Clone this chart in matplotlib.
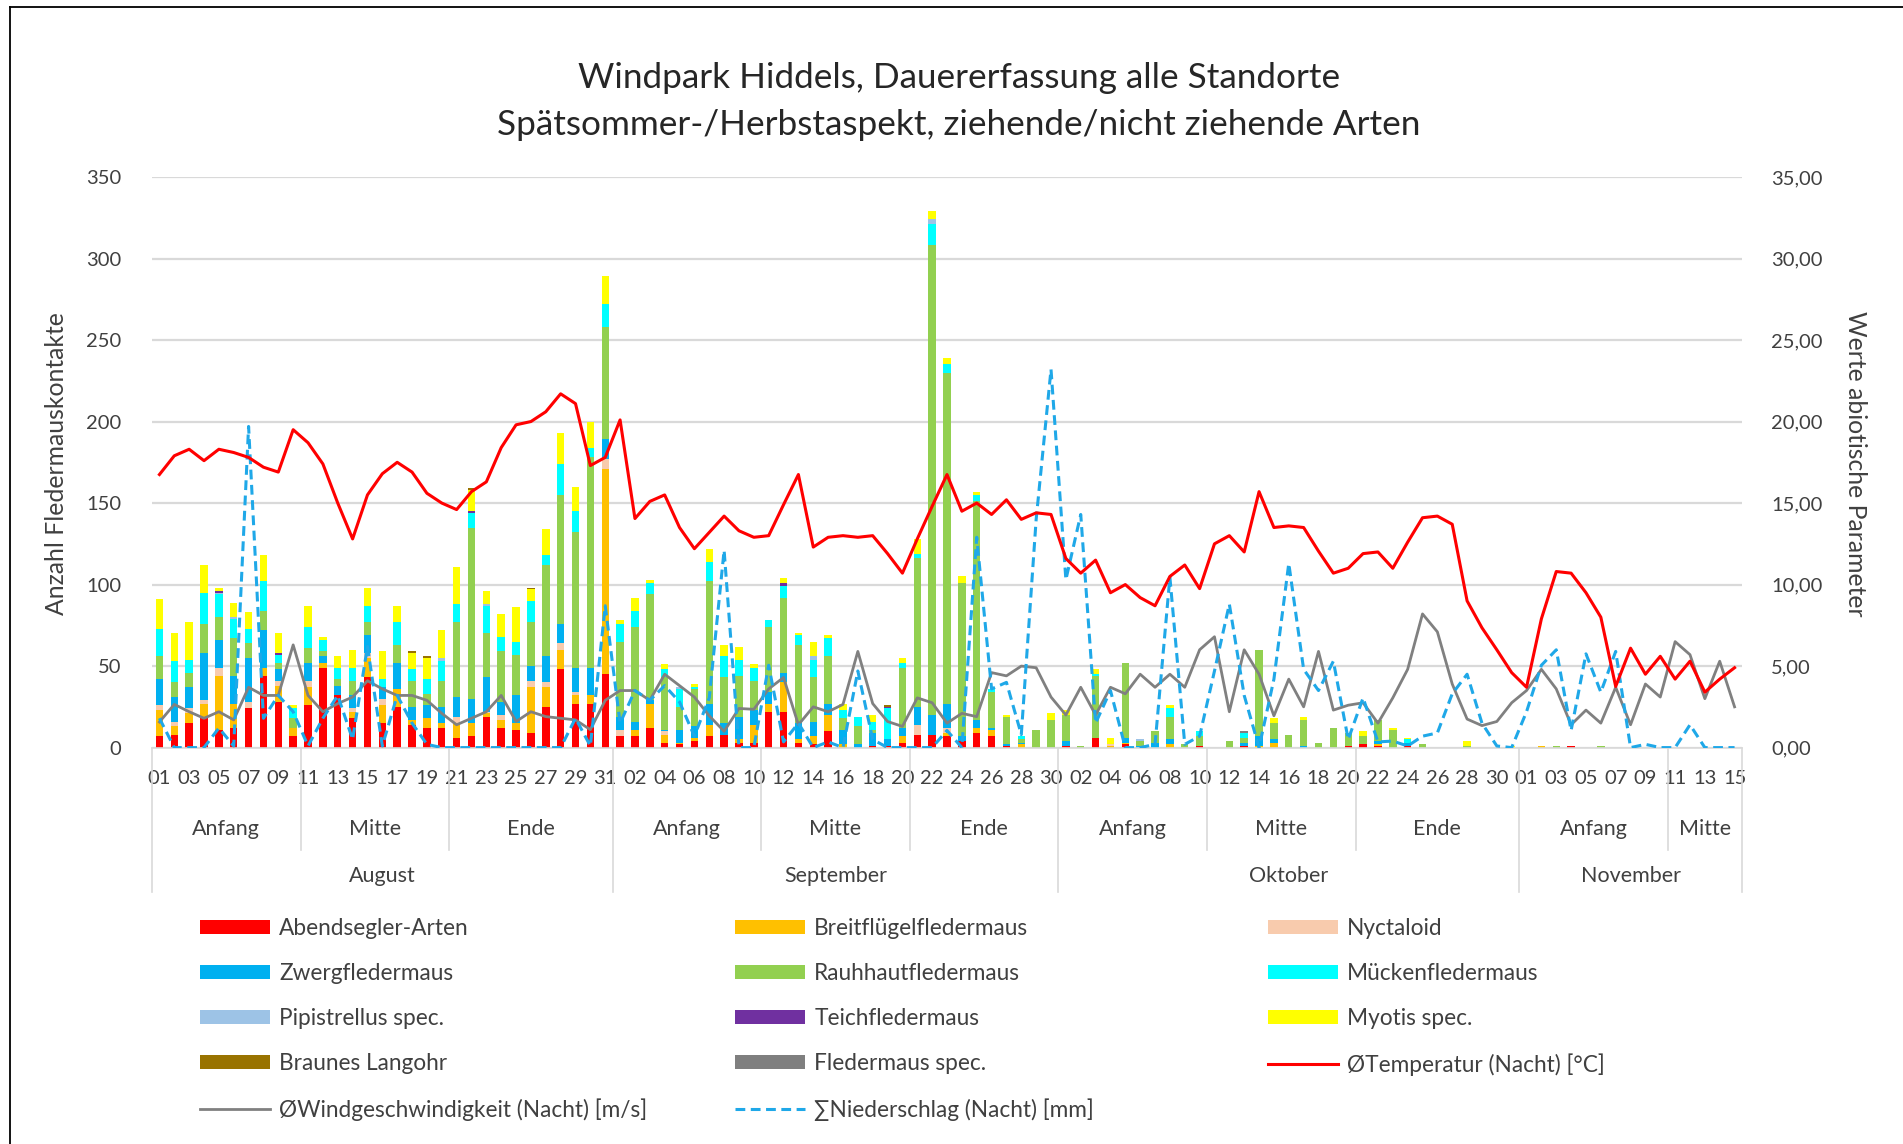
import matplotlib
matplotlib.use('Agg')
import matplotlib.pyplot as plt
from matplotlib.lines import Line2D
from matplotlib.patches import Patch
from matplotlib.ticker import FuncFormatter, MultipleLocator
import matplotlib.transforms as mtransforms
import numpy as np

plt.rcParams['font.family'] = ['Lato', 'DejaVu Sans']

# ---------------- data ----------------
months = ['August', 'September', 'Oktober', 'November']
month_days = [31, 30, 31, 15]
periods = ['Anfang', 'Mitte', 'Ende']

abendsegler = [7,8,15,18,11,12,24,44,28,7, 26,49,32,18,43,15,25,14,12,12, 6,7,19,12,11,9,25,48,27,27,45,
               7,7,12,3,2,4,7,8,3,3, 22,22,3,2,10,0,0,1,1,3, 8,8,7,4,9,7,1,0,0,0,
               1,0,6,0,2,0,0,0,0,1, 0,0,1,0,0,0,0,0,0,1, 2,1,0,1,0,0,0,0,0,0,0,
               0,0,0,1,0,0,0,0,0,0, 0,0,0,0,0]
breitfluegel = [16,5,6,9,33,15,0,5,10,5, 11,3,0,4,12,11,11,3,6,3, 9,8,2,5,4,28,12,12,5,5,126,
                0,4,15,5,1,2,7,0,2,11, 5,18,2,5,10,2,0,0,0,4, 0,0,2,0,3,4,0,2,0,0,
                0,0,0,1,1,0,0,2,0,0, 0,0,0,1,3,0,0,0,0,0, 0,1,0,0,0,0,0,0,0,0,0,
                0,1,0,0,0,0,0,0,0,0, 0,0,0,0,0]
nyctaloid = [3,3,3,2,5,0,4,0,3,0, 4,0,0,2,3,4,0,0,0,0, 4,0,1,3,0,4,3,4,2,0,6,
             4,0,0,2,0,0,0,0,0,0, 0,0,0,0,0,0,0,0,0,0, 6,0,3,0,0,0,0,0,0,0,
             0,0,0,1,0,0,0,0,0,0, 0,0,0,0,0,0,0,0,0,0, 0,0,0,0,0,0,0,0,0,0,0,
             0,0,0,0,0,0,0,0,0,0, 0,0,0,0,0]
zwerg = [16,15,13,29,17,17,27,23,7,0, 11,4,6,8,11,7,16,8,8,10, 12,15,21,8,17,9,16,12,15,17,12,
         8,5,2,1,8,7,13,7,14,9, 7,6,10,9,7,9,2,8,4,5, 11,12,15,3,5,1,1,1,0,0,
         3,0,0,0,3,1,3,3,0,0, 0,0,2,6,2,0,1,0,0,0, 0,2,0,2,0,0,0,0,0,0,0,
         0,0,0,0,0,0,0,0,0,0, 0,0,0,0,0]
rauhhaut = [14,9,9,18,14,23,9,12,4,6, 9,3,4,9,8,0,11,16,7,16, 46,105,27,31,25,27,56,79,83,129,69,
            46,58,65,32,14,23,75,28,25,18, 40,46,48,27,29,7,11,2,0,37, 91,288,203,94,134,22,17,2,11,17,
            16,1,38,0,46,3,7,14,2,6, 0,4,3,53,10,8,16,3,12,8, 5,13,11,0,2,0,0,1,0,0,0,
            0,0,1,0,0,1,0,0,0,0, 0,0,0,0,0]
muecken = [17,13,8,19,14,12,9,18,5,6, 13,7,7,8,10,5,14,7,9,12, 11,9,17,9,8,13,6,19,13,6,14,
           11,10,7,5,11,1,12,13,10,8, 4,7,6,11,11,5,6,5,19,3, 3,13,5,0,4,2,0,2,0,0,
           0,0,1,0,0,0,0,5,0,3, 0,0,3,0,0,0,0,0,0,0, 0,0,0,2,0,0,0,0,0,0,0,
           0,0,0,0,0,0,0,0,0,0, 0,0,0,0,0]
pipistrellus = [0,0,0,0,1,1,0,0,0,0, 0,0,0,0,0,0,0,0,0,2, 0,0,1,0,0,0,0,0,0,0,0,
                0,0,0,0,1,0,0,0,0,0, 0,0,0,2,0,0,0,0,0,0, 0,3,0,0,0,0,0,0,0,0,
                0,0,0,0,0,1,0,0,0,0, 0,0,0,0,0,0,0,0,0,0, 0,0,0,0,0,0,0,0,0,0,0,
                0,0,0,0,0,0,0,0,0,0, 0,0,0,0,0]
teich = [0,0,0,0,1,0,0,0,1,0, 0,0,0,0,0,0,0,0,0,0, 0,1,0,0,0,0,0,0,0,0,0,
         0,0,0,0,0,0,0,0,0,0, 0,2,0,0,0,0,0,0,1,0, 0,0,0,0,0,0,0,0,0,0,
         0,0,0,0,0,0,0,0,0,0, 0,0,0,0,0,0,0,0,0,0, 0,0,0,0,0,0,0,0,0,0,0,
         0,0,0,0,0,0,0,0,0,0, 0,0,0,0,0]
myotis = [18,17,23,17,2,9,10,16,12,2, 13,2,7,11,11,17,10,10,13,17, 23,13,8,14,21,7,16,19,15,16,17,
          2,8,2,3,0,2,8,7,8,2, 0,3,1,9,2,4,0,4,0,3, 9,5,4,4,2,0,1,0,0,4,
          3,0,3,4,0,0,0,2,0,0, 0,0,0,0,3,0,2,0,0,0, 3,0,1,1,0,0,0,3,0,0,1,
          0,0,0,0,0,0,0,0,0,0, 0,0,0,0,0]
langohr = [0,0,0,0,0,0,0,0,0,0, 0,0,0,0,0,0,0,1,1,0, 0,1,0,0,0,1,0,0,0,0,0,
           0,0,0,0,0,0,0,0,0,0, 0,0,0,0,0,0,0,0,1,0, 0,0,0,0,0,0,0,0,0,0,
           0,0,0,0,0,0,0,0,0,0, 0,0,0,0,0,0,0,0,0,0, 0,0,0,0,0,0,0,0,0,0,0,
           0,0,0,0,0,0,0,0,0,0, 0,0,0,0,0]
fledermaus_spec = [0,0,0,0,0,0,0,0,0,0, 0,0,0,0,0,0,0,0,0,0, 0,0,0,0,0,0,0,0,0,0,0,
                   0,0,0,0,0,0,0,0,0,0, 0,0,0,0,0,0,0,0,0,0, 0,0,0,0,0,0,0,0,0,0,
                   0,0,0,0,0,0,0,0,0,0, 0,0,1,0,0,0,0,0,0,0, 0,0,0,0,0,0,0,0,0,0,0,
                   0,0,0,0,0,0,0,0,0,0, 0,0,0,0,0]

temperatur = [16.75,17.9,18.3,17.6,18.3,18.1,17.8,17.2,16.9,19.5, 18.7,17.4,15.0,12.8,15.5,16.8,17.5,16.9,15.6,15.0,
              14.6,15.7,16.3,18.4,19.8,20.0,20.6,21.7,21.1,17.3,17.8,
              20.1,14.05,15.1,15.5,13.5,12.2,13.2,14.2,13.3,12.9, 13.0,14.9,16.75,12.3,12.9,13.0,12.9,13.0,11.9,10.7,
              12.8,14.8,16.75,14.5,15.0,14.3,15.2,14.0,14.4,14.3,
              11.6,10.7,11.5,9.5,10.0,9.2,8.7,10.5,11.2,9.75, 12.5,13.0,12.0,15.7,13.5,13.6,13.5,12.05,10.7,11.0,
              11.9,12.0,11.0,12.6,14.1,14.2,13.7,9.0,7.35,6.0,4.6,
              3.7,7.9,10.8,10.7,9.5,8.0,3.75,6.1,4.5,5.6, 4.2,5.3,3.4,4.2,4.9]
wind = [1.57,2.65,2.2,1.8,2.2,1.7,3.7,3.2,3.2,6.3, 3.2,2.2,2.7,3.1,4.1,3.6,3.2,3.2,2.9,2.1,
        1.4,1.8,2.2,3.2,1.6,2.2,1.9,1.8,1.7,1.1,2.9,
        3.5,3.5,2.9,4.5,3.8,3.1,1.95,1.0,2.4,2.35, 3.6,4.3,1.4,2.5,2.2,2.65,5.9,2.7,1.6,1.3,
        3.05,2.75,1.5,2.1,1.9,4.6,4.4,5.0,4.9,3.1,
        2.0,3.7,2.0,3.7,3.3,4.5,3.7,4.5,3.7,6.0, 6.8,2.2,6.0,4.5,1.95,4.2,2.5,5.9,2.3,2.6,
        2.75,1.5,3.05,4.8,8.2,7.1,3.9,1.75,1.35,1.6,2.75,
        3.5,4.8,3.6,1.4,2.3,1.5,3.7,1.4,3.9,3.1, 6.5,5.7,3.0,5.3,2.5]
niederschlag = [1.8,0,0,0,1.2,0.1,19.7,1.8,3.2,2.2, 0.1,1.8,3.2,0.5,6.2,0.1,3.2,1.5,0.2,0,
                0,0,0,0,0,0,0,0,1.8,0.1,8.7,
                1.5,3.5,2.9,3.8,2.8,0.7,3.05,12.1,0,0, 5.05,0.35,1.5,0,0.35,0,4.7,0.5,0,0,
                0,0,1.05,0,12.9,3.6,4.0,0.8,14.0,23.2,
                10.3,14.3,1.5,3.5,0,0,0.2,10.45,0.2,0.7, 4.7,8.8,3.2,0,4.2,11.3,4.8,3.5,5.3,0.5,
                3.05,0.35,0.4,0.1,0.7,0.9,3.3,4.5,1.5,0.1,0,
                2.2,5.05,6.0,1.05,5.75,3.4,5.9,0,0.2,0, 0,1.4,0,0,0]

species_names = ['Abendsegler-Arten', 'Breitflügelfledermaus', 'Nyctaloid', 'Zwergfledermaus',
                 'Rauhhautfledermaus', 'Mückenfledermaus', 'Pipistrellus spec.', 'Teichfledermaus',
                 'Myotis spec.', 'Braunes Langohr', 'Fledermaus spec.']
species_values = [abendsegler, breitfluegel, nyctaloid, zwerg, rauhhaut, muecken,
                  pipistrellus, teich, myotis, langohr, fledermaus_spec]
species_colors = ['#FF0000', '#FFC000', '#F8CBAD', '#00B0F0', '#92D050', '#00FFFF',
                  '#9DC3E6', '#7030A0', '#FFFF00', '#997300', '#7F7F7F']

# ---------------- figure ----------------
W, H = 1903, 1144
fig = plt.figure(figsize=(W / 100, H / 100), dpi=100)
fig.patch.set_facecolor('white')

def fx(px):
    return px / W

def fy(py):
    return 1 - py / H

ax_left, ax_right, ax_top, ax_bot = 152, 1742, 177, 747.6
ax = fig.add_axes([fx(ax_left), fy(ax_bot), fx(ax_right - ax_left), (ax_bot - ax_top) / H])
ax2 = ax.twinx()

day_labels = [f"{d:02d}" for n in month_days for d in range(1, n + 1)]
n = len(day_labels)
x = np.arange(n)

txt_col = '#404040'
grid_col = '#D9D9D9'

bottom = np.zeros(n)
bar_handles = []
for name, vals, col in zip(species_names, species_values, species_colors):
    v = np.array(vals, dtype=float)
    ax.bar(x, v, width=0.5, bottom=bottom, color=col, linewidth=0, zorder=2)
    bottom += v
    bar_handles.append(Patch(facecolor=col, edgecolor='none', label=name))

l_temp, = ax2.plot(x, temperatur, color='#FF0000', lw=2.2, zorder=5, label='ØTemperatur (Nacht) [°C]')
l_wind, = ax2.plot(x, wind, color='#808080', lw=2.0, zorder=4, label='ØWindgeschwindigkeit (Nacht) [m/s]')
l_rain, = ax2.plot(x, niederschlag, color='#1FA8E8', lw=2.2, dashes=(3.2, 1.8), zorder=4,
                   label='∑Niederschlag (Nacht) [mm]')

ax.set_xlim(-0.5, n - 0.5)
ax.set_ylim(0, 350)
ax2.set_ylim(0, 35)
ax.yaxis.set_major_locator(MultipleLocator(50))
ax2.yaxis.set_major_locator(MultipleLocator(5))
ax2.yaxis.set_major_formatter(FuncFormatter(lambda v, p: f"{v:.2f}".replace('.', ',')))

ax.yaxis.grid(True, color=grid_col, lw=1.6, zorder=0)
ax.set_axisbelow(True)
for a in (ax, ax2):
    for s in a.spines.values():
        s.set_visible(False)
ax.spines['bottom'].set_visible(True)
ax.spines['bottom'].set_color(grid_col)
ax.spines['bottom'].set_linewidth(1.2)

ax.set_xticks(x[::2])
ax.set_xticklabels(day_labels[::2])
ax.tick_params(axis='x', length=0, pad=16, labelsize=14.5, labelcolor=txt_col)
ax.tick_params(axis='y', length=0, pad=22, labelsize=14.5, labelcolor=txt_col)
ax2.tick_params(axis='y', length=0, pad=21, labelsize=14.5, labelcolor=txt_col)

# multi-level category axis
trans = mtransforms.blended_transform_factory(ax.transData, ax.transAxes)
y_period = -0.142
y_month = -0.225
y_grp_end = -0.18
y_mon_end = -0.253
cat_fs = 15.5
start = 0
for m, nd in zip(months, month_days):
    ax.plot([start - 0.5, start - 0.5], [0, y_mon_end], transform=trans, color=grid_col,
            lw=1.2, clip_on=False)
    groups = [(1, 10), (11, 20), (21, nd)]
    for pname, (a, b) in zip(periods, groups):
        if a > nd:
            continue
        b = min(b, nd)
        i0, i1 = start + a - 1, start + b - 1
        ax.text((i0 + i1) / 2, y_period, pname, transform=trans, ha='center', va='center',
                fontsize=cat_fs, color=txt_col)
        if a > 1:
            ax.plot([i0 - 0.5, i0 - 0.5], [0, y_grp_end], transform=trans, color=grid_col,
                    lw=1.2, clip_on=False)
    ax.text(start + (nd - 1) / 2, y_month, m, transform=trans, ha='center', va='center',
            fontsize=cat_fs, color=txt_col)
    start += nd
ax.plot([n - 0.5, n - 0.5], [0, y_mon_end], transform=trans, color=grid_col, lw=1.2, clip_on=False)

# titles and axis labels
fig.text(0.504, fy(78), 'Windpark Hiddels, Dauererfassung alle Standorte', ha='center', va='center',
         fontsize=25.3, color='#262626')
fig.text(0.504, fy(125), 'Spätsommer-/Herbstaspekt, ziehende/nicht ziehende Arten', ha='center',
         va='center', fontsize=25.3, color='#262626')
fig.text(fx(57), fy(464), 'Anzahl Fledermauskontakte', rotation=90, ha='center', va='center',
         fontsize=17.8, color=txt_col)
fig.text(fx(1855), fy(464), 'Werte abiotische Parameter', rotation=-90, ha='center', va='center',
         fontsize=17.8, color=txt_col)

# legend in three columns (row-major order as in the original)
cols = [
    [bar_handles[0], bar_handles[3], bar_handles[6], bar_handles[9], l_wind],
    [bar_handles[1], bar_handles[4], bar_handles[7], bar_handles[10], l_rain],
    [bar_handles[2], bar_handles[5], bar_handles[8], l_temp],
]
col_x = [200, 735, 1268]
for hs, cx in zip(cols, col_x):
    fig.legend(handles=hs, labels=[h.get_label() for h in hs], loc='upper left',
               bbox_to_anchor=(fx(cx), fy(918)), frameon=False, fontsize=16.3,
               handlelength=3.1, handleheight=0.55, handletextpad=0.4, labelspacing=1.06,
               borderpad=0, borderaxespad=0, labelcolor=txt_col)

# outer frame (left and top edges visible)
fig.add_artist(Line2D([fx(10), fx(10)], [fy(7), 0], color='black', lw=1.3))
fig.add_artist(Line2D([fx(10), 1], [fy(7), fy(7)], color='black', lw=1.3))

fig.savefig('out.png', dpi=100, facecolor='white')
